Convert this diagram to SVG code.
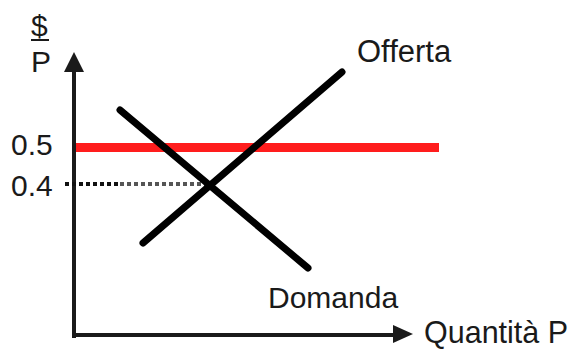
<svg xmlns="http://www.w3.org/2000/svg" width="576" height="349" viewBox="0 0 576 349">
<style>
text{font-family:"Liberation Sans",Arial,sans-serif;fill:#1a1a1a}
.axis{stroke:#1a1a1a;stroke-width:4;fill:none}
.curve{stroke:#000;stroke-width:7;stroke-linecap:round;fill:none}
.head{fill:#1a1a1a}
</style>
<rect width="576" height="349" fill="#fff"/>
<g id="connectors">
<line class="axis" x1="74" y1="338" x2="74" y2="70"/>
<polygon class="head" points="74,52 64,72 84,72"/>
<line class="axis" x1="72" y1="335" x2="396" y2="335"/>
<polygon class="head" points="413,334 393,325 393,343"/>
<line x1="65" y1="184" x2="120" y2="184" stroke="#111" stroke-width="4" stroke-dasharray="4 3"/>
<line x1="120" y1="184" x2="208" y2="184" stroke="#555" stroke-width="4" stroke-dasharray="4 3"/>
</g>
<g id="price-line">
<line x1="76" y1="147.5" x2="439" y2="147.5" stroke="#ff1d1d" stroke-width="9"/>
</g>
<g id="demand">
<line class="curve" x1="120" y1="110" x2="308" y2="268"/>
</g>
<g id="supply">
<line class="curve" x1="143" y1="243" x2="342" y2="72"/>
</g>
<g id="labels">
<text x="31" y="36" font-size="30">$</text>
<line x1="31" y1="40" x2="49" y2="40" stroke="#1a1a1a" stroke-width="2"/>
<text x="31" y="72" font-size="30">P</text>
<text x="11" y="155" font-size="30">0.5</text>
<text x="11" y="196" font-size="30">0.4</text>
<text x="357" y="62" font-size="31">Offerta</text>
<text x="268" y="308" font-size="30">Domanda</text>
<text x="424" y="343" font-size="30.5">Quantità P</text>
</g>
</svg>
